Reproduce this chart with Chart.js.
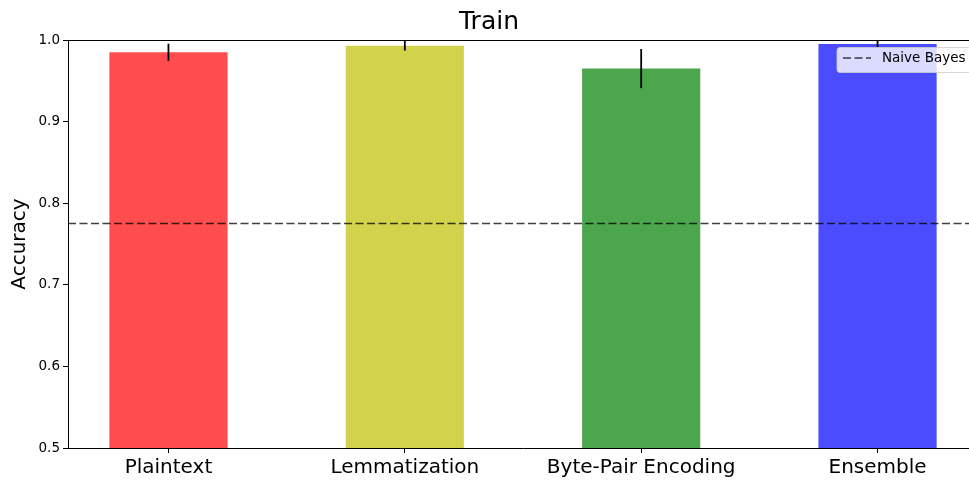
<!DOCTYPE html>
<html>
<head>
<meta charset="utf-8">
<script src="https://cdn.jsdelivr.net/npm/chart.js@4.4.1/dist/chart.umd.min.js"></script>
<style>
  html, body { margin: 0; padding: 0; overflow: hidden; background: #fff; }
  #wrap { width: 990px; height: 483px; position: relative; }
</style>
</head>
<body>
<div id="wrap"><canvas id="c"></canvas></div>
<script>
// Mean training accuracy per text representation, with its spread
const categories = ['Plaintext', 'Lemmatization', 'Byte-Pair Encoding', 'Ensemble'];
const accuracy = [0.985, 0.993, 0.965, 0.995];
const accuracyErr = [0.0105, 0.006, 0.024, 0.005];
// Baseline score
const naiveBayes = 0.775;
const baselineLabel = 'Naive Bayes';
const yTicks = [0.5, 0.6, 0.7, 0.8, 0.9, 1.0];

const barColors = ['rgba(255,0,0,0.7)', 'rgba(191,191,0,0.7)', 'rgba(0,128,0,0.7)', 'rgba(0,0,255,0.7)'];
const xMin = -0.425, xMax = 3.425;
const dashStyle = [8, 3.5];
const baseColor = 'rgba(0,0,0,0.75)';

Chart.defaults.font.family = "'DejaVu Sans', sans-serif";
Chart.defaults.color = '#000';

const overlay = {
  id: 'overlay',
  afterDatasetsDraw(chart) {
    const { ctx, chartArea: a, scales: { x, y } } = chart;
    ctx.save();
    // error bars
    ctx.strokeStyle = '#000';
    ctx.lineWidth = 1.8;
    accuracy.forEach((v, i) => {
      const px = x.getPixelForValue(i);
      ctx.beginPath();
      ctx.moveTo(px, y.getPixelForValue(v - accuracyErr[i]));
      ctx.lineTo(px, y.getPixelForValue(v + accuracyErr[i]));
      ctx.stroke();
    });
    // top and right spines
    ctx.lineWidth = 1;
    ctx.beginPath();
    ctx.moveTo(a.left, a.top + 0.5);
    ctx.lineTo(a.right, a.top + 0.5);
    ctx.moveTo(a.right + 0.5, a.top);
    ctx.lineTo(a.right + 0.5, a.bottom);
    ctx.stroke();
    ctx.restore();
  },
  afterDraw(chart) {
    const { ctx, chartArea: a } = chart;
    const w = 134, h = 25;
    const right = a.right - 7, top = a.top + 7.5;
    const left = right - w;
    ctx.save();
    ctx.beginPath();
    ctx.roundRect(left, top, w, h, 3);
    ctx.fillStyle = 'rgba(255,255,255,0.8)';
    ctx.fill();
    ctx.strokeStyle = 'rgba(204,204,204,0.8)';
    ctx.lineWidth = 1;
    ctx.stroke();
    ctx.beginPath();
    ctx.setLineDash(dashStyle);
    ctx.strokeStyle = baseColor;
    ctx.lineWidth = 1.5;
    ctx.moveTo(left + 6, top + 10.5);
    ctx.lineTo(left + 34, top + 10.5);
    ctx.stroke();
    ctx.setLineDash([]);
    ctx.fillStyle = '#000';
    ctx.font = "13.5px 'DejaVu Sans'";
    ctx.textBaseline = 'middle';
    ctx.fillText(baselineLabel, left + 45, top + 11);
    ctx.restore();
  }
};

new Chart(document.getElementById('c'), {
  type: 'bar',
  data: {
    datasets: [
      {
        type: 'line',
        label: baselineLabel,
        data: [{ x: xMin, y: naiveBayes }, { x: xMax, y: naiveBayes }],
        borderColor: baseColor,
        borderWidth: 1.5,
        borderDash: dashStyle,
        pointRadius: 0,
        order: 0
      },
      {
        label: 'Accuracy',
        data: accuracy.map((v, i) => ({ x: i, y: v })),
        backgroundColor: barColors,
        borderWidth: 0,
        categoryPercentage: 1,
        barPercentage: 0.5,
        order: 1
      }
    ]
  },
  options: {
    responsive: true,
    maintainAspectRatio: false,
    animation: false,
    layout: { padding: { left: 0, right: 12, top: 0, bottom: 0 } },
    plugins: {
      legend: { display: false },
      tooltip: { enabled: false },
      title: {
        display: true,
        text: 'Train',
        color: '#000',
        font: { size: 25, weight: 'normal' },
        padding: { top: 7.5, bottom: 2.5 }
      }
    },
    scales: {
      x: {
        type: 'linear',
        offset: false,
        min: xMin,
        max: xMax,
        afterBuildTicks: s => { s.ticks = categories.map((_, i) => ({ value: i })); },
        afterFit: s => { s.height = 35; },
        ticks: {
          autoSkip: false,
          maxRotation: 0,
          padding: 3,
          color: '#000',
          font: { size: 20 },
          callback: v => categories[v]
        },
        grid: { offset: false, drawOnChartArea: false, tickLength: 5, tickColor: '#000' },
        border: { color: '#000', width: 1 }
      },
      y: {
        min: 0.5,
        max: 1.0,
        afterBuildTicks: s => { s.ticks = yTicks.map(v => ({ value: v })); },
        afterFit: s => { s.width = 68; },
        ticks: {
          padding: 3,
          color: '#000',
          font: { size: 13.5 },
          callback: v => v.toFixed(1)
        },
        grid: { drawOnChartArea: false, tickLength: 5, tickColor: '#000' },
        border: { color: '#000', width: 1 },
        title: {
          display: true,
          text: 'Accuracy',
          color: '#000',
          font: { size: 20 },
          padding: { top: 8, bottom: 0 }
        }
      }
    }
  },
  plugins: [overlay]
});
</script>
</body>
</html>
